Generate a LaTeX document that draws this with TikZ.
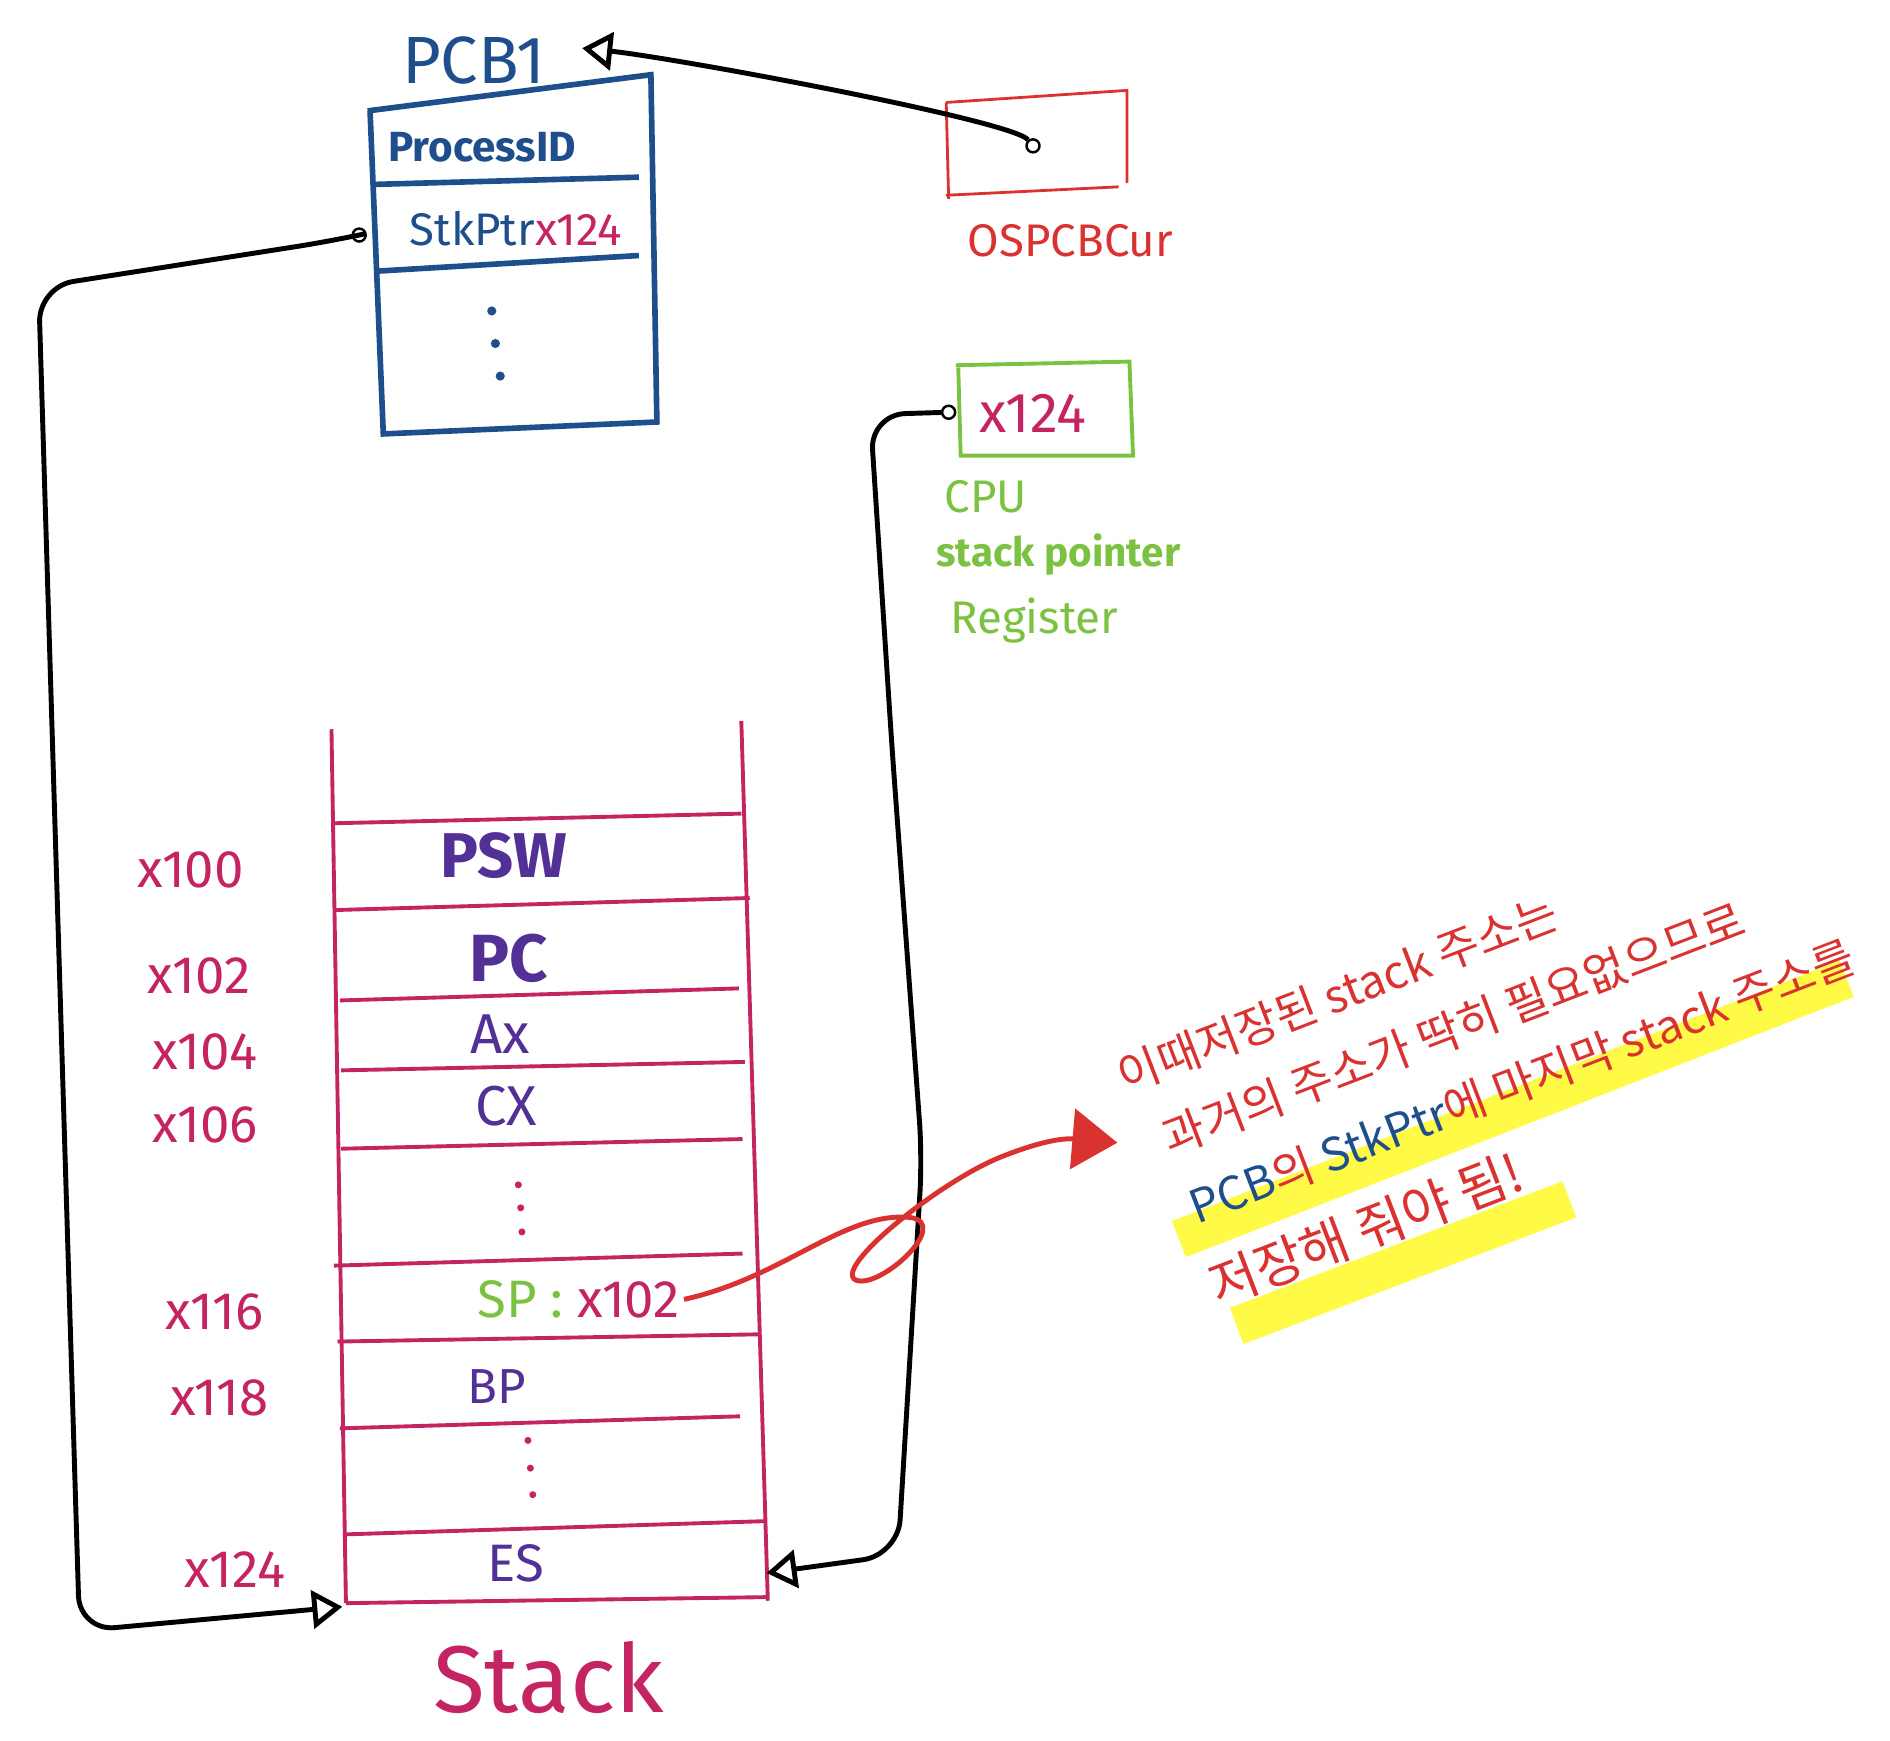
\documentclass[tikz,border=0pt]{standalone}
\usepackage{fontspec}
\setmainfont{Fira Sans}
\newfontfamily\kor{Noto Sans CJK KR}
\usetikzlibrary{positioning,arrows.meta,backgrounds}
\definecolor{pcbblue}{RGB}{31,78,140}
\definecolor{stkmag}{RGB}{196,36,98}
\definecolor{regpurple}{RGB}{82,48,150}
\definecolor{curred}{RGB}{218,50,48}
\definecolor{cpugreen}{RGB}{124,194,66}
\definecolor{hlyellow}{RGB}{255,250,70}
\tikzset{
  conn/.style={line width=1.4pt,black,rounded corners=10pt},
  openarr/.style={-{Triangle[open,length=3mm,width=3.8mm]}},
  hole/.style={circle,draw=black,fill=white,inner sep=0pt,minimum size=1.3mm,line width=0.7pt},
  pcbline/.style={line width=1.6pt,pcbblue},
  stkline/.style={line width=1.1pt,stkmag},
  curbox/.style={line width=0.8pt,curred},
  cpubox/.style={line width=1.1pt,cpugreen},
  fs/.style={font=\fontsize{#1}{#1}\selectfont},
  bfs/.style={font=\fontsize{#1}{#1}\selectfont\bfseries},
  reg/.style={text=regpurple,inner sep=1pt},
  addr/.style={fs=15,text=stkmag,inner sep=1pt},
  % ---- note styles ----
  note/.style={font=\kor\fontsize{13}{21}\selectfont,text=curred,align=left,inner sep=0pt},
  noteline/.style={line width=1.4pt,curred,-{Triangle[length=4.5mm,width=6mm]}},
  hl/.style={line width=11pt,hlyellow},
}
\begin{document}
\begin{tikzpicture}[x=0.012054cm,y=-0.012054cm]
  \useasboundingbox (0,0) rectangle (1568,1444);
  % PCB1 block
  \node[fs=19,text=pcbblue] (pcbt) at (393,50) {PCB1};
  \draw[pcbline] (305,92) -- (540,62) -- (545,352);
  \draw[pcbline] (307,92) -- (318,360) -- (547,350);
  \draw[pcbline] (310,153) -- (530,147);
  \draw[pcbline] (312,225) -- (530,212);
  \node[bfs=12,text=pcbblue] (pid) at (400,122) {ProcessID};
  \node[fs=13,text=pcbblue] (stk) at (428,190) {StkPtr\textcolor{stkmag}{x124}};
  \foreach \x/\y in {408/258,411/285,415/312} \fill[pcbblue] (\x,\y) circle (1.3pt);
  \node[hole] (stkdot) at (298,195) {};
  % OSPCBCur
  \draw[curbox] (785,85) -- (935,75) -- (935,152);
  \draw[curbox] (785,85) -- (787,165);
  \draw[curbox] (785,162) -- (928,155);
  \node[fs=13,text=curred] (cur) at (888,200) {OSPCBCur};
  \node[hole] (curdot) at (857,121) {};
  \coordinate (pcbin) at (483,40);
  % CPU stack pointer register
  \draw[cpubox] (793,303) -- (937,300) -- (940,378) -- (797,378) -- (795,305);
  \node[fs=16,text=stkmag] (spval) at (857,343) {x124};
  \node[fs=13,text=cpugreen] (cpu) at (818,412) {CPU};
  \node[bfs=11.5,text=cpugreen] (spr) at (878,460) {stack pointer};
  \node[fs=13,text=cpugreen] (regt) at (858,515) {Register};
  \node[hole] (cpudot) at (787,342) {};
  % stack frame
  \draw[stkline] (275,605) -- (287,1330);
  \draw[stkline] (615,598) -- (637,1328);
  \foreach \xl/\yl/\xr/\yr in {277/683/615/675, 278/755/622/745, 282/830/613/820,
      283/888/618/881, 283/953/616/945, 277/1050/616/1040, 280/1113/629/1107,
      282/1185/614/1175, 285/1273/634/1262, 287/1330/637/1325}
    \draw[stkline] (\xl,\yl) -- (\xr,\yr);
  \node[reg,bfs=18] (psw) at (418,710) {PSW};
  \node[reg,bfs=19] (pc) at (422,795) {PC};
  \node[reg,fs=16] (ax) at (415,858) {Ax};
  \node[reg,fs=16] (cx) at (420,918) {CX};
  \node[fs=15,inner sep=1pt] (sp) at (480,1078) {\textcolor{cpugreen}{SP :} \textcolor{stkmag}{x102}};
  \node[reg,fs=14] (bp) at (412,1150) {BP};
  \node[reg,fs=15] (es) at (428,1297) {ES};
  \foreach \x/\y in {430/983,432/1002,433/1022,438/1195,440/1218,442/1240}
    \fill[stkmag] (\x,\y) circle (1pt);
  \foreach \x/\y/\t in {158/722/x100, 165/810/x102, 170/873/x104, 170/933/x106,
      178/1088/x116, 182/1160/x118, 195/1302/x124}
    \node[addr] (a\t) at (\x,\y) {\t};
  \node[fs=27,text=stkmag] (stackt) at (455,1392) {Stack};
  \coordinate (stkbot) at (284,1333);
  \coordinate (esin) at (636,1305);
  % pointers
  \draw[conn,openarr] (curdot) .. controls (840,100) and (560,48) .. (pcbin);
  \draw[conn,openarr] (stkdot) -- (275,200) -- (32,238) -- (66,1353) -- (stkbot);
  \draw[conn,openarr] (cpudot) -- (722,344) -- (740,620) -- (765,960) -- (745,1290) -- (esin);
  % note
  \coordinate (notetip) at (927,948);
  \draw[noteline] (sp.east) .. controls (650,1060) and (700,1005) .. (755,1010)
    .. controls (790,1015) and (730,1070) .. (710,1062)
    .. controls (690,1052) and (780,980) .. (830,960)
    .. controls (860,948) and (880,944) .. (notetip);
  \begin{scope}[on background layer]
    \draw[hl] (978,1028) -- (1532,812);
    \draw[hl] (1026,1100) -- (1302,995);
  \end{scope}
  \node[note,rotate=21,anchor=north west] (memo) at (922,878) {이때저장된 stack 주소는\\
    \hspace*{2mm}과거의 주소가 딱히 필요없으므로\\
    \hspace*{2mm}\textcolor{pcbblue}{PCB}의 \textcolor{pcbblue}{StkPtr}에 마지막 stack 주소를\\[3pt]
    \hspace*{1mm}{\fontsize{15}{21}\selectfont 저장해 줘야 됨!}};
\end{tikzpicture}
\end{document}
